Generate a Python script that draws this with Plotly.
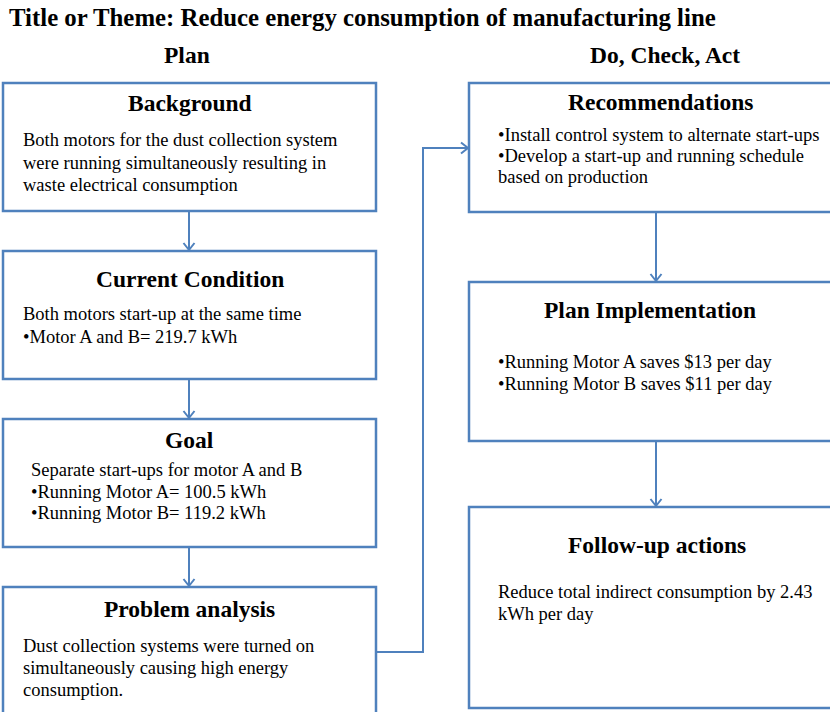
import plotly.graph_objects as go

# ---- content ----
page_title = "Title or Theme: Reduce energy consumption of manufacturing line"
column_headers = ["Plan", "Do, Check, Act"]
box_titles = ["Background", "Current Condition", "Goal", "Problem analysis",
              "Recommendations", "Plan Implementation", "Follow-up actions"]
box_lines = [
    ["Both motors for the dust collection system",
     "were running simultaneously resulting in",
     "waste electrical consumption"],
    ["Both motors start-up at the same time",
     "•Motor A and B= 219.7 kWh"],
    ["Separate start-ups for motor A and B",
     "•Running Motor A= 100.5 kWh",
     "•Running Motor B= 119.2 kWh"],
    ["Dust collection systems were turned on",
     "simultaneously causing high energy",
     "consumption."],
    ["•Install control system to alternate start-ups",
     "•Develop a start-up and running schedule",
     "based on production"],
    ["•Running Motor A saves $13 per day",
     "•Running Motor B saves $11 per day"],
    ["Reduce total indirect consumption by 2.43",
     "kWh per day"],
]

# ---- layout geometry (page pixels) ----
W, H = 830, 712
BLUE = "#4F81BD"
FONT = "Liberation Serif, Times New Roman, serif"

boxes = [  # x0, y0, x1, y1
    (3, 83, 376, 211), (3, 251, 376, 379), (3, 419, 376, 547), (3, 587, 376, 730),
    (469, 83, 845, 212), (469, 282, 845, 441), (469, 507, 845, 708),
]
title_pos = [(189.5, 103), (189.5, 279), (189.5, 440), (189.5, 609),
             (660, 102), (650, 310), (657, 545)]
body_pos = [  # x, first-line y, line step
    (21, 140, 22.5), (21, 314, 22.5), (29, 470, 21.5), (21, 646, 22),
    (496, 135, 21), (496, 362, 22), (496, 592, 21.5),
]

fig = go.Figure()
fig.add_trace(go.Scatter(x=[0, W], y=[0, H], mode="markers",
                         marker=dict(opacity=0), hoverinfo="skip", showlegend=False))

shapes = []
for (x0, y0, x1, y1) in boxes:
    shapes.append(dict(type="rect", xref="x", yref="y", x0=x0, y0=y0, x1=x1, y1=y1,
                       line=dict(color=BLUE, width=2.5), fillcolor="white", layer="below"))

def arrow(points):
    path = "M " + " L ".join(f"{x},{y}" for x, y in points)
    shapes.append(dict(type="path", xref="x", yref="y", path=path,
                       line=dict(color=BLUE, width=2)))
    (xa, ya), (xb, yb) = points[-2], points[-1]
    if xa == xb:  # vertical, pointing down
        head = f"M {xb-5.5},{yb-8} L {xb},{yb-1} L {xb+5.5},{yb-8}"
    else:  # horizontal, pointing right
        head = f"M {xb-8},{yb-5.5} L {xb-1},{yb} L {xb-8},{yb+5.5}"
    shapes.append(dict(type="path", xref="x", yref="y", path=head,
                       line=dict(color=BLUE, width=2)))

arrow([(189, 211), (189, 251)])
arrow([(189, 379), (189, 419)])
arrow([(189, 547), (189, 587)])
arrow([(376, 652), (423, 652), (423, 148), (469, 148)])
arrow([(656, 212), (656, 282)])
arrow([(656, 441), (656, 507)])

ann = []
ann.append(dict(x=8, y=17, text=f"<b>{page_title}</b>", xanchor="left", yanchor="middle",
                font=dict(family=FONT, size=24.8, color="black"), borderpad=0))
for txt, (cx, cy) in zip(column_headers, [(187, 55), (665, 55)]):
    ann.append(dict(x=cx, y=cy, text=f"<b>{txt}</b>", xanchor="center", yanchor="middle",
                    font=dict(family=FONT, size=23.5, color="black")))
for t, (tx, ty) in zip(box_titles, title_pos):
    ann.append(dict(x=tx, y=ty, text=f"<b>{t}</b>", xanchor="center", yanchor="middle",
                    font=dict(family=FONT, size=23.5, color="black")))
for lines, (bx, by, step) in zip(box_lines, body_pos):
    for i, line in enumerate(lines):
        ann.append(dict(x=bx, y=by + i * step, text=line, xanchor="left", yanchor="middle",
                        font=dict(family=FONT, size=18.5, color="black")))
for a in ann:
    a.update(xref="x", yref="y", showarrow=False)

fig.update_layout(
    width=W, height=H, margin=dict(l=0, r=0, t=0, b=0),
    paper_bgcolor="white", plot_bgcolor="white",
    xaxis=dict(range=[0, W], visible=False, fixedrange=True),
    yaxis=dict(range=[H, 0], visible=False, fixedrange=True),
    shapes=shapes, annotations=ann, showlegend=False,
)
fig.write_html(
    "out.html",
    config={"displayModeBar": False},
    post_script="document.body.style.margin='0';document.body.style.overflow='hidden';",
)
